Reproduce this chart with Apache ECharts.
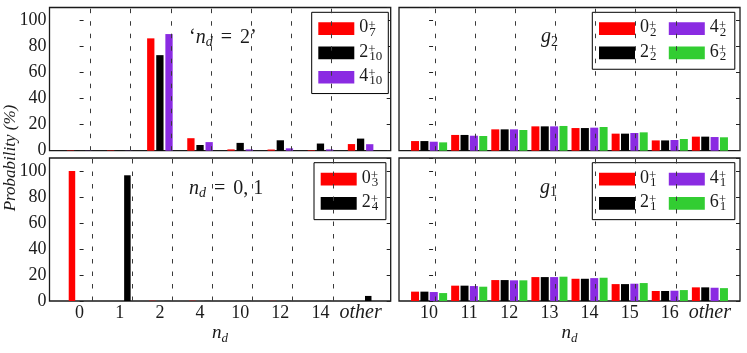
<!DOCTYPE html>
<html>
<head>
<meta charset="UTF-8">
<title>n_d probability</title>
<script src="https://cdn.jsdelivr.net/npm/echarts@6/dist/echarts.min.js"></script>
<style>
  html, body { margin: 0; padding: 0; background: #fff; }
  #chart { width: 747px; height: 353px; }
</style>
</head>
<body>
<div id="chart"></div>
<script>
  // categories
  var catsLeft  = ['0', '1', '2', '4', '10', '12', '14', 'other'];
  var catsRight = ['10', '11', '12', '13', '14', '15', '16', 'other'];

  // top-left : 'n_d = 2' states
  var tl_0_7  = [0.3, 0.3, 86.3, 9.6, 1.0, 0.9, 0.4, 5.1];
  var tl_2_10 = [0.1, 0.1, 73.4, 4.4, 6.0, 8.0, 5.5, 9.3];
  var tl_4_10 = [0.1, 0.1, 89.6, 6.6, 1.0, 1.8, 1.0, 5.0];
  // bottom-left : n_d = 0, 1
  var bl_0_3 = [100, 0, 0.2, 0.2, 0, 0.1, 0, 0];
  var bl_2_4 = [0, 96.7, 0.1, 0.1, 0.1, 0.1, 0.1, 3.9];
  // top-right : g2 band
  var g2_0 = [7.4, 12.1, 16.4, 18.7, 17.4, 13.1, 7.9, 10.8];
  var g2_2 = [7.4, 12.1, 16.4, 18.7, 17.4, 13.1, 7.9, 10.8];
  var g2_4 = [6.9, 11.5, 16.4, 18.7, 17.7, 13.6, 8.2, 10.5];
  var g2_6 = [6.4, 11.3, 15.9, 19.0, 18.2, 14.1, 9.0, 10.3];
  // bottom-right : g1 band
  var g1_0 = [7.2, 11.8, 16.1, 18.4, 17.1, 13.0, 7.7, 10.5];
  var g1_2 = [7.2, 11.8, 16.1, 18.4, 17.1, 13.0, 7.7, 10.5];
  var g1_4 = [6.9, 11.5, 15.9, 18.4, 17.6, 13.3, 7.9, 10.2];
  var g1_6 = [6.1, 11.0, 15.9, 18.7, 17.9, 13.8, 8.4, 9.9];

  var RED = '#ff0000', BLACK = '#000000', PURPLE = '#8a2be2', GREEN = '#32cd32';
  var serif = '"Liberation Serif", "DejaVu Serif", serif';
  var txt = '#1a1a1a';

  function pts(vals) {
    return vals.map(function (v, i) { return [i, v]; });
  }

  function sepLines(cats) {
    return {
      silent: true,
      symbol: ['none', 'none'],
      label: { show: false },
      lineStyle: { type: [4.5, 8], color: '#3a3a3a', width: 1 },
      data: cats.slice(1).map(function (c, i) { return { xAxis: i + 0.5 }; })
    };
  }

  function bar(name, vals, color, i, w, gap, cats) {
    var s = {
      name: name, type: 'bar', xAxisIndex: i, yAxisIndex: 2 * i,
      data: pts(vals), barWidth: w, barGap: gap,
      itemStyle: { color: color }, silent: true
    };
    if (cats) s.markLine = sepLines(cats);
    return s;
  }

  var subRich = {
    n: { fontFamily: serif, fontStyle: 'italic', fontSize: 19, lineHeight: 24, verticalAlign: 'middle', color: txt },
    d: { fontFamily: serif, fontStyle: 'italic', fontSize: 13, lineHeight: 11, verticalAlign: 'bottom', color: txt }
  };

  function xAxis(i, cats, showLabels) {
    return {
      type: 'value', gridIndex: i, min: -0.75, max: 7.75,
      axisLine: { show: false }, axisTick: { show: false }, splitLine: { show: false },
      axisLabel: {
        show: showLabels,
        customValues: cats.map(function (c, k) { return k; }),
        formatter: function (v) {
          var c = cats[Math.round(v)];
          return c === 'other' ? '{i|other}' : c;
        },
        fontFamily: serif, fontSize: 18, lineHeight: 18, color: txt, margin: 3,
        rich: { i: { fontFamily: serif, fontStyle: 'italic', fontSize: 20, lineHeight: 18, color: txt } }
      },
      name: showLabels ? '{n|n}{d|d}' : '',
      nameLocation: 'middle', nameGap: 19.7,
      nameTextStyle: { rich: subRich }
    };
  }

  function yAxes(i, showLabels) {
    var tick = { show: true, inside: true, length: 4, lineStyle: { color: '#222', width: 1 } };
    return [
      { type: 'value', gridIndex: i, position: 'left', min: 0, max: 110, interval: 20,
        axisLine: { show: false }, splitLine: { show: false }, axisTick: tick,
        axisLabel: { show: showLabels, showMaxLabel: false, fontFamily: serif, fontSize: 18, color: txt, margin: 3 } },
      { type: 'value', gridIndex: i, position: 'right', min: 0, max: 110, interval: 20,
        axisLine: { show: false }, splitLine: { show: false }, axisTick: tick,
        axisLabel: { show: false } }
    ];
  }

  function grid(left, top, width, height) {
    return { left: left, top: top, width: width, height: height, show: true,
      borderColor: '#1a1a1a', borderWidth: 1.3, backgroundColor: 'transparent',
      containLabel: false, outerBoundsMode: 'none' };
  }

  function legendText(name) {
    var p = name.split('_');
    return '{b|' + p[0] + '}{p|+}{s|' + p[1] + '}';
  }
  function legendRich(padRight) {
    return {
      b: { fontFamily: serif, fontSize: 18, lineHeight: 11, verticalAlign: 'top', color: txt },
      p: { fontFamily: serif, fontSize: 13, lineHeight: 2, verticalAlign: 'top', width: 1, color: txt },
      s: { fontFamily: serif, fontSize: 13, lineHeight: 20, verticalAlign: 'bottom', color: txt, padding: [0, padRight, 0, 0] }
    };
  }
  function legend(left, top, names, pad, padRight, height) {
    var l = {
      left: left, top: top, orient: 'vertical', data: names,
      icon: 'rect', itemWidth: 36, itemHeight: 12.7, itemGap: 4.3,
      padding: pad, borderColor: '#000', borderWidth: 1, borderRadius: 0,
      backgroundColor: '#fff', selectedMode: false,
      formatter: legendText, textStyle: { rich: legendRich(padRight) }
    };
    if (height) l.height = height;
    return l;
  }

  var annRich = {
    m: { fontFamily: serif, fontSize: 20, lineHeight: 24, verticalAlign: 'middle', color: txt, fontWeight: 'normal' },
    e: { fontFamily: serif, fontSize: 20, lineHeight: 24, verticalAlign: 'middle', color: txt, fontWeight: 'normal', padding: [0, 8, 0, 8] },
    n: { fontFamily: serif, fontStyle: 'italic', fontSize: 20, lineHeight: 24, verticalAlign: 'middle', color: txt, fontWeight: 'normal' },
    d: { fontFamily: serif, fontStyle: 'italic', fontSize: 14, lineHeight: 11, verticalAlign: 'bottom', color: txt, fontWeight: 'normal' },
    s: { fontFamily: serif, fontSize: 14, lineHeight: 12, verticalAlign: 'bottom', color: txt, fontWeight: 'normal' }
  };
  function ann(left, top, text) {
    return { left: left, top: top, padding: 0, text: text, textStyle: { fontWeight: 'normal', rich: annRich } };
  }

  var chart = echarts.init(document.getElementById('chart'), null, { renderer: 'canvas' });
  chart.setOption({
    animation: false,
    backgroundColor: '#fff',
    grid: [
      grid(49.5, 7.5, 341.2, 143.2),
      grid(399, 7.5, 341, 143.2),
      grid(49.5, 158, 341.2, 143),
      grid(399, 158, 341, 143)
    ],
    xAxis: [
      xAxis(0, catsLeft, false),
      xAxis(1, catsRight, false),
      xAxis(2, catsLeft, true),
      xAxis(3, catsRight, true)
    ],
    yAxis: [].concat(yAxes(0, true), yAxes(1, false), yAxes(2, true), yAxes(3, false)),
    legend: [
      legend(311.7, 12.3, ['0_7', '2_10', '4_10'], [6.35, 6, 6.3, 6.6], 0),
      legend(592.3, 12.3, ['0_2', '2_2', '4_2', '6_2'], [6.35, 0.5, 6.3, 6.7], 8, 60),
      legend(314, 162.7, ['0_3', '2_4'], [6.35, 7.7, 6.3, 6.7], 0),
      legend(592.3, 162.7, ['0_1', '2_1', '4_1', '6_1'], [6.35, 0.5, 6.3, 6.7], 8, 60)
    ],
    title: [
      ann(189, 25.4, '{m|\u2018}{n|n}{d|d}{e|=}{m|2\u2019}'),
      ann(541, 25.2, '{n|g}{s|2}'),
      ann(189, 176.4, '{n|n}{d|d}{e|=}{m|0, 1}'),
      ann(540, 175.7, '{n|g}{s|1}')
    ],
    graphic: [{
      type: 'text', x: 11, y: 158, rotation: Math.PI / 2, silent: true,
      style: { text: 'Probability (%)', font: 'italic 17px "Liberation Serif"', fill: txt,
        textAlign: 'center', textVerticalAlign: 'middle' }
    }],
    series: [
      bar('0_7', tl_0_7, RED, 0, 7.3, '25%', catsLeft),
      bar('2_10', tl_2_10, BLACK, 0, 7.3, '25%'),
      bar('4_10', tl_4_10, PURPLE, 0, 7.3, '25%'),

      bar('0_2', g2_0, RED, 1, 8, '17%', catsRight),
      bar('2_2', g2_2, BLACK, 1, 8, '17%'),
      bar('4_2', g2_4, PURPLE, 1, 8, '17%'),
      bar('6_2', g2_6, GREEN, 1, 8, '17%'),

      bar('0_3', bl_0_3, RED, 2, 6.5, '135%', catsLeft),
      bar('2_4', bl_2_4, BLACK, 2, 6.5, '135%'),

      bar('0_1', g1_0, RED, 3, 8, '17%', catsRight),
      bar('2_1', g1_2, BLACK, 3, 8, '17%'),
      bar('4_1', g1_4, PURPLE, 3, 8, '17%'),
      bar('6_1', g1_6, GREEN, 3, 8, '17%')
    ]
  });
</script>
</body>
</html>
